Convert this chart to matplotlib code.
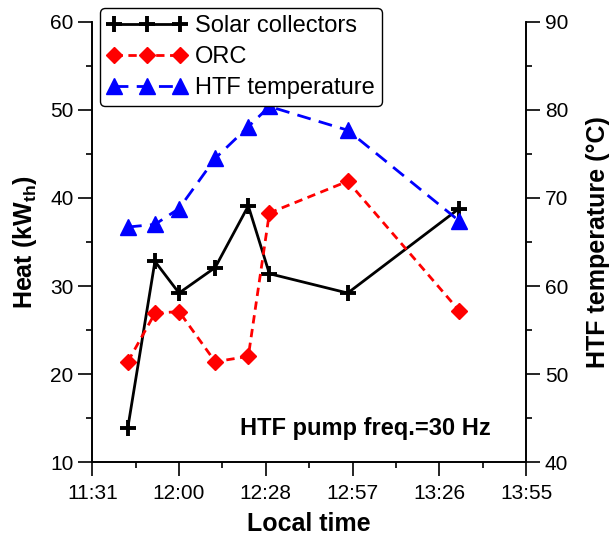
import math
import matplotlib
matplotlib.use('Agg')
import matplotlib.pyplot as plt
from matplotlib.ticker import MultipleLocator, FuncFormatter

plt.rcParams['font.family'] = ['Liberation Sans', 'DejaVu Sans']
plt.rcParams['mathtext.fontset'] = 'custom'
plt.rcParams['mathtext.rm'] = 'Liberation Sans'
plt.rcParams['mathtext.bf'] = 'Liberation Sans:bold'
plt.rcParams['mathtext.default'] = 'bf'

# data
times = ['11:43', '11:52', '12:00', '12:12', '12:23', '12:30', '12:56', '13:33']
solar = [13.9, 32.8, 29.2, 32.1, 39.1, 31.4, 29.2, 38.8]
orc = [21.4, 26.9, 27.1, 21.4, 22.0, 38.3, 41.9, 27.2]
htf_temp = [66.7, 67.0, 68.8, 74.5, 78.1, 80.4, 77.7, 67.4]


def to_min(s):
    h, m = s.split(':')
    return int(h) * 60 + int(m)


x = [to_min(t) for t in times]

fig = plt.figure(figsize=(6.14, 5.4), dpi=100)
ax = fig.add_axes([0.1503, 0.1444, 0.7064, 0.8149])
ax2 = ax.twinx()

l1, = ax.plot(x, solar, color='black', lw=2, marker='+', ms=12, mew=2.8,
              label='Solar collectors')
l2, = ax.plot(x, orc, color='red', lw=2, ls=(0, (3, 2)), marker='D', ms=8,
              label='ORC')
l3, = ax2.plot(x, htf_temp, color='blue', lw=2, ls=(0, (5, 3)), marker='^', ms=11,
               label='HTF temperature')

# x axis: 0.02 day steps (28.8 min)
ax.set_xlim(691.2, 835.2)
ax.xaxis.set_major_locator(MultipleLocator(28.8))
ax.xaxis.set_minor_locator(MultipleLocator(14.4))
ax.xaxis.set_major_formatter(FuncFormatter(
    lambda v, p: '%d:%02d' % divmod(int(math.floor(v + 1e-6)), 60)))

ax.set_ylim(10, 60)
ax.yaxis.set_major_locator(MultipleLocator(10))
ax.yaxis.set_minor_locator(MultipleLocator(5))
ax2.set_ylim(40, 90)
ax2.yaxis.set_major_locator(MultipleLocator(10))
ax2.yaxis.set_minor_locator(MultipleLocator(5))

for a in (ax, ax2):
    a.spines['top'].set_visible(False)
    for s in a.spines.values():
        s.set_linewidth(1.2)
    a.tick_params(which='major', direction='out', length=10, width=1.2, labelsize=15)
    a.tick_params(which='minor', direction='out', length=4.5, width=1.2)
ax.tick_params(axis='x', pad=6)

ax.set_xlabel('Local time', fontsize=18, fontweight='bold', labelpad=6)
ax.set_ylabel('Heat (kW$_{th}$)', fontsize=18, fontweight='bold', labelpad=8)
ax2.set_ylabel('HTF temperature (°C)', fontsize=18, fontweight='bold', labelpad=13)

ax.text(0.34, 0.077, 'HTF pump freq.=30 Hz', transform=ax.transAxes,
        fontsize=17, fontweight='bold', ha='left', va='center')

leg = ax2.legend(handles=[l1, l2, l3], loc='upper left',
                 bbox_to_anchor=(100 / 614, 1 - 8 / 540), bbox_transform=fig.transFigure,
                 borderaxespad=0, fontsize=17, numpoints=3, handlelength=3.4,
                 handletextpad=0.33, labelspacing=0.38, borderpad=0.3,
                 fancybox=True, framealpha=1, edgecolor='black')
leg.get_frame().set_linewidth(1.0)

fig.savefig('out.png', dpi=100, facecolor='white')
